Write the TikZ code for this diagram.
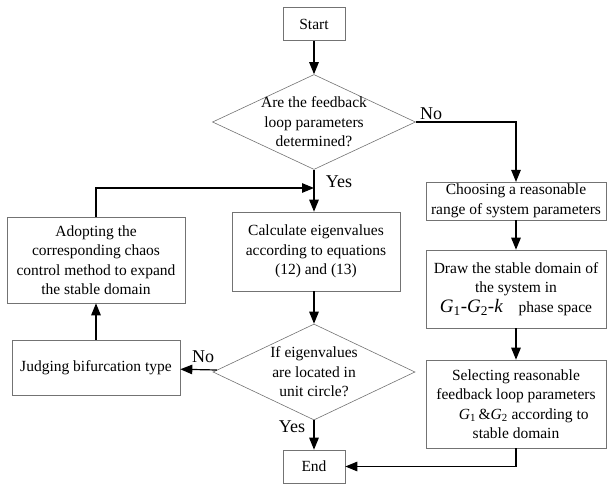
\documentclass[tikz,border=0pt]{standalone}
\usepackage{fontspec}
\setmainfont{Liberation Serif}
\usetikzlibrary{shapes.geometric,arrows.meta}
\begin{document}
\begin{tikzpicture}[x=1pt,y=-1pt,
    box/.style={draw=gray!90!black,line width=0.6pt,align=center,inner sep=2pt,font=\fontsize{15.5}{19.5}\selectfont},
    decide/.style={diamond,draw=gray!90!black,line width=0.6pt,inner sep=0pt},
    arr/.style={line width=1.2pt,-{Triangle[length=12pt,width=9.5pt]}},
    lab/.style={font=\fontsize{18}{20}\selectfont}]
    \useasboundingbox (0,0) rectangle (607,485);
    % boxes and decisions
    \node[box,minimum width=62,minimum height=33] (start) at (314,24) {Start};
    \node[decide,minimum width=203,minimum height=95] (q1) at (314,122) {};
    \node[box,draw=none] at (q1) {Are the feedback\\loop parameters\\determined?};
    \node[box,minimum width=180,minimum height=36] (choose) at (516,201) {Choosing a reasonable\\range of system parameters};
    \node[box,minimum width=180,minimum height=78] (domain) at (516,289) {Draw the stable domain of\\the system in\\{\fontsize{19}{19.5}\selectfont\textit{G}\textsubscript{1}-\textit{G}\textsubscript{2}-\textit{k}}\quad phase space};
    \node[box,minimum width=180,minimum height=88] (select) at (516,404) {Selecting reasonable\\feedback loop parameters\\\quad\textit{G}\textsubscript{1}\,\&\textit{G}\textsubscript{2} according to\\stable domain};
    \node[box,minimum width=168,minimum height=79] (calc) at (316,251.5) {Calculate eigenvalues\\according to equations\\(12) and (13)};
    \node[decide,minimum width=202,minimum height=96] (q2) at (314,372) {};
    \node[box,draw=none] at (q2) {If eigenvalues\\are located in\\unit circle?};
    \node[box,minimum width=62,minimum height=33] (end) at (314,466.5) {End};
    \node[box,minimum width=168,minimum height=55] (judge) at (96,367.5) {Judging bifurcation type};
    \node[box,minimum width=178,minimum height=86] (adopt) at (96,260) {Adopting the\\corresponding chaos\\control method to expand\\the stable domain};
    \coordinate (merge) at (314,188);
    % connectors
    \draw[arr] (start) -- (q1);
    \draw[arr] (q1.south) -- (q1.south |- calc.north);
    \draw[arr] (q1.east) -| (choose.north);
    \draw[arr] (choose) -- (domain);
    \draw[arr] (domain) -- (select);
    \draw[arr] (select.south) |- (end.east);
    \draw[arr] (calc.south -| q2.north) -- (q2.north);
    \draw[arr] (q2) -- (end);
    \draw[arr] (q2) -- (judge);
    \draw[arr] (judge) -- (adopt);
    \draw[arr] (adopt.north) |- (merge);
    % labels
    \node[lab] (no1) at (431,114) {No};
    \node[lab] (yes1) at (339,182) {Yes};
    \node[lab] (no2) at (203,357) {No};
    \node[lab] (yes2) at (292,427) {Yes};
\end{tikzpicture}
\end{document}
